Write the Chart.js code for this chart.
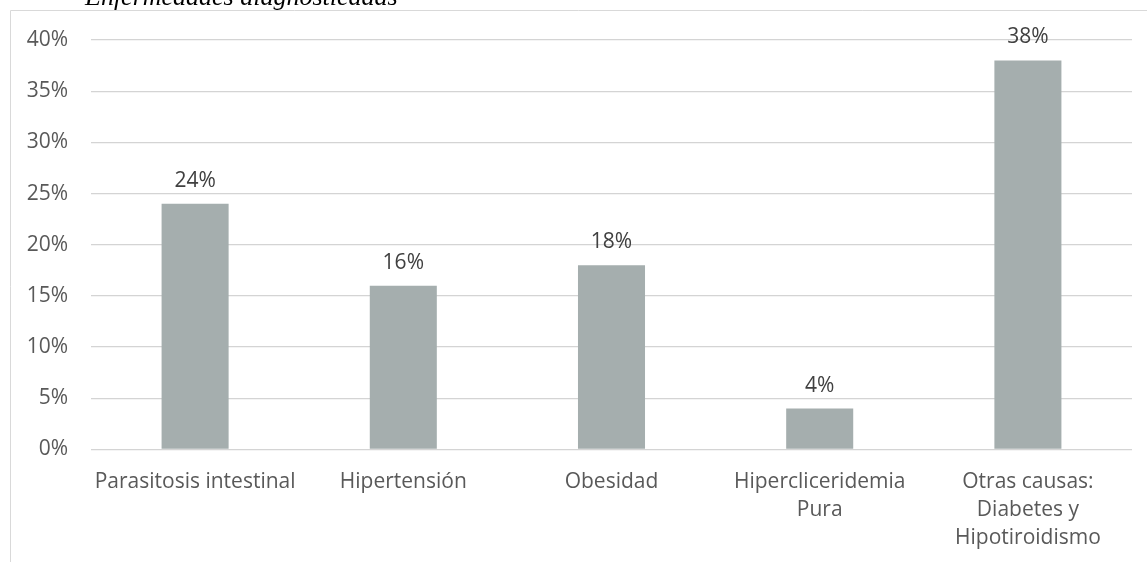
<!DOCTYPE html>
<html>
<head>
<meta charset="utf-8">
<script src="https://cdn.jsdelivr.net/npm/chart.js@4.4.0/dist/chart.umd.min.js"></script>
<style>
  html, body { margin: 0; padding: 0; background: #ffffff; }
  #wrap { position: relative; width: 1147px; height: 562px; }
</style>
</head>
<body>
<div id="wrap"><canvas id="chart" width="1147" height="562"></canvas></div>
<script>
// Diagnosed diseases, share of cases (%)
const categories = [
  'Parasitosis intestinal',
  'Hipertensión',
  'Obesidad',
  ['Hipercliceridemia', 'Pura'],
  ['Otras causas:', 'Diabetes y', 'Hipotiroidismo']
];
const percentages = [24, 16, 18, 4, 38];
const yTicks = [0, 5, 10, 15, 20, 25, 30, 35, 40];
const chartTitle = 'Enfermedades diagnosticadas';

const FONT = "'Open Sans', 'Noto Sans', sans-serif";

// Frame and heading drawn on the canvas
const framePlugin = {
  id: 'frame',
  beforeDraw(chart) {
    const ctx = chart.ctx;
    ctx.save();
    ctx.strokeStyle = '#d9d9d9';
    ctx.lineWidth = 1;
    ctx.beginPath();
    ctx.moveTo(10.5, chart.height);
    ctx.lineTo(10.5, 10.5);
    ctx.lineTo(chart.width, 10.5);
    ctx.stroke();
    ctx.fillStyle = '#000000';
    ctx.font = "italic 26px 'Liberation Serif', 'DejaVu Serif', serif";
    ctx.textBaseline = 'alphabetic';
    ctx.textAlign = 'left';
    ctx.fillText(chartTitle, 85, 5);
    ctx.restore();
  }
};

// Value labels above each bar
const valueLabels = {
  id: 'valueLabels',
  afterDatasetsDraw(chart) {
    const ctx = chart.ctx;
    const meta = chart.getDatasetMeta(0);
    const data = chart.data.datasets[0].data;
    ctx.save();
    ctx.fillStyle = '#404040';
    ctx.font = '21px ' + FONT;
    ctx.textAlign = 'center';
    ctx.textBaseline = 'alphabetic';
    meta.data.forEach((bar, i) => {
      ctx.fillText(data[i] + '%', bar.x, bar.y - 17);
    });
    ctx.restore();
  }
};

new Chart(document.getElementById('chart'), {
  type: 'bar',
  data: {
    labels: categories,
    datasets: [{
      data: percentages,
      backgroundColor: '#a5aeae',
      borderWidth: 0,
      categoryPercentage: 1,
      barPercentage: 0.322
    }]
  },
  options: {
    responsive: false,
    animation: false,
    events: [],
    layout: { padding: { top: 40, right: 15, bottom: 0, left: 0 } },
    plugins: {
      legend: { display: false },
      tooltip: { enabled: false },
      title: { display: false }
    },
    scales: {
      x: {
        grid: { display: false, drawTicks: false },
        border: { display: false },
        ticks: {
          color: '#595959',
          font: { family: FONT, size: 21, lineHeight: 1.34 },
          padding: 18,
          maxRotation: 0,
          autoSkip: false
        },
        afterFit(scale) { scale.height = 112.5; }
      },
      y: {
        min: 0,
        max: 40,
        afterBuildTicks(scale) { scale.ticks = yTicks.map(v => ({ value: v })); },
        grid: { color: '#d4d4d4', lineWidth: 1.3, drawTicks: false },
        border: { display: false },
        ticks: {
          color: '#595959',
          font: { family: FONT, size: 21 },
          padding: 23,
          callback: v => v + '%'
        },
        afterFit(scale) { scale.width = 91; }
      }
    }
  },
  plugins: [framePlugin, valueLabels]
});
</script>
</body>
</html>
